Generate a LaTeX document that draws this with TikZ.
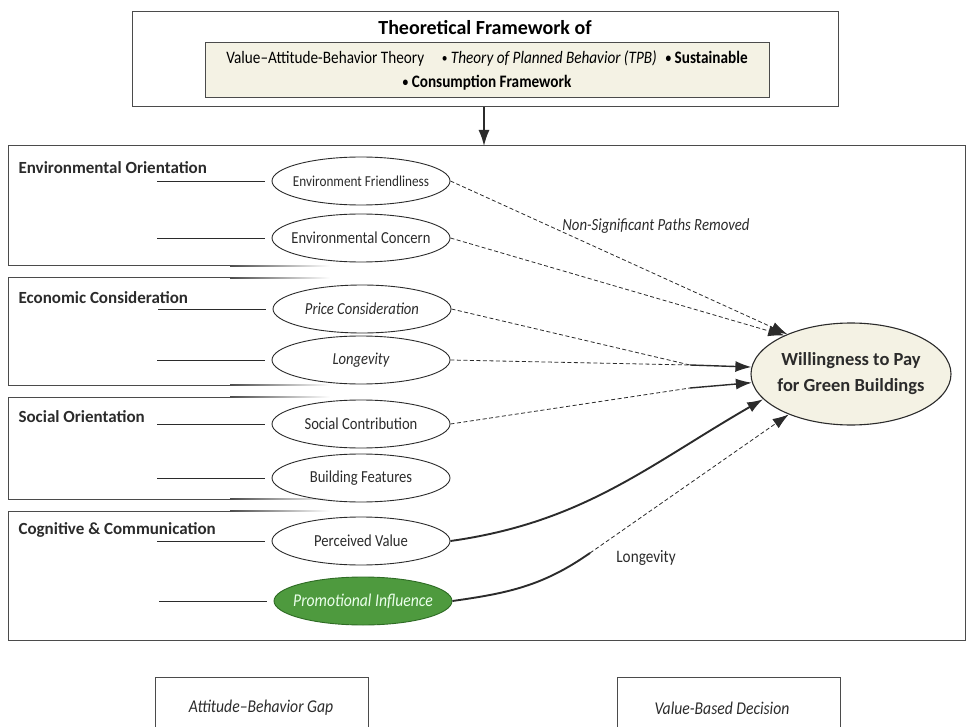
\documentclass[tikz,border=0pt]{standalone}
\usepackage{graphicx}
\usepackage{fontspec}
\setmainfont{Carlito}
\newfontfamily\narrow{Carlito}[FakeStretch=0.87]
\usetikzlibrary{arrows.meta,shapes.geometric}
\definecolor{cream}{HTML}{F4F2E4}
\definecolor{leaf}{HTML}{4E9A3E}
\definecolor{leafdark}{HTML}{2E6B24}
\definecolor{ink}{HTML}{2B2B2B}
\newcommand\sepdot{\raisebox{0.5pt}{\scalebox{0.75}{\textbullet}}}

\begin{document}
\begin{tikzpicture}[x=1pt,y=-1pt,
    construct/.style={ellipse,draw=ink,line width=0.9pt,minimum width=178pt,minimum height=48pt,
      inner xsep=-20pt,inner ysep=0pt,text=ink,font=\narrow\fontsize{16.8}{18}\selectfont},
    grouplabel/.style={anchor=west,text=ink,font=\fontsize{17}{20}\selectfont\bfseries},
    frame/.style={draw=ink!85,line width=1pt},
    nsig/.style={draw=ink,line width=0.8pt,dash pattern=on 4pt off 2.5pt},
    sig/.style={draw=ink,line width=1.4pt},
    tip/.style={-{Latex[length=16pt,width=11pt]}}]
  \useasboundingbox (0,0) rectangle (966,727);

  % theoretical framework
  \node (fw) [frame,minimum width=706pt,minimum height=95pt] at (485,59.5) {};
  \node (fwtitle) at (485,28) {\fontsize{20}{22}\selectfont\bfseries Theoretical Framework of};
  \node (theories) [frame,fill=cream,minimum width=564pt,minimum height=55pt,align=center,
    font=\narrow\fontsize{17.5}{24}\selectfont] at (487,70)
    {Value–Attitude-Behavior Theory\quad\sepdot~\textit{Theory of Planned Behavior (TPB)}\enspace\textbf{\sepdot~Sustainable}\\
     \textbf{\sepdot~Consumption Framework}};
  \coordinate (frametop) at (484,146);
  \draw[line width=1.6pt,ink,tip] (fw.south -| frametop) -- (frametop);

  % group frames
  \draw[frame] (8,146) -- (965,146) -- (965,640) -- (8,640);
  \foreach \ytop/\ybot in {146/266,278/385,397/499,511/640}
    \draw[frame] (8,\ytop) -- (8,\ybot);
  \foreach \y in {266,278,385,397,499,511} {
    \draw[frame] (8,\y) -- (230,\y);
    \shade[left color=ink!85,right color=white] (230,\y-0.5) rectangle (330,\y+0.5);
  }
  \node (envlab) [grouplabel] at (15,168) {Environmental Orientation};
  \node (ecolab) [grouplabel] at (15,298) {Economic Consideration};
  \node (soclab) [grouplabel] at (15,417) {Social Orientation};
  \node (coglab) [grouplabel] at (15,530) {Cognitive \& Communication};

  % constructs
  \node (ef) [construct,font=\narrow\fontsize{15.2}{17}\selectfont] at (361,181) {Environment Friendliness};
  \node (ec) [construct] at (361,238) {Environmental Concern};
  \node (pc) [construct] at (362,309) {\itshape Price Consideration};
  \node (lg) [construct] at (361,360) {\itshape Longevity};
  \node (sc) [construct] at (361,424) {Social Contribution};
  \node (bf) [construct] at (361,478) {Building Features};
  \node (pv) [construct] at (361,541) {Perceived Value};
  \node (pi) [construct,fill=leaf,draw=leafdark,text=green!8,font=\narrow\fontsize{18}{20}\selectfont]
    at (363,601) {\itshape Promotional Influence};
  \foreach \n in {ef,ec,pc,lg,sc,bf,pv,pi}
    \draw[ink,line width=0.8pt] (\n.west) ++(-7,0) -- ++(-108,0);

  % outcome
  \node (wtp) [ellipse,draw=ink,line width=1.1pt,fill=cream,minimum width=200pt,minimum height=102pt,
    inner xsep=-8pt,align=center,text=ink,font=\fontsize{18.5}{26}\selectfont\bfseries] at (851,374)
    {Willingness to Pay\\for Green Buildings};

  % paths
  \coordinate (m1) at (690,365);
  \coordinate (m2) at (690,388);
  \coordinate (m3) at (590,553);
  \draw[nsig,tip] (ef.east) -- (wtp.148);
  \draw[nsig,tip] (ec.east) -- (wtp.150);
  \draw[nsig] (pc.east) -- (m1);
  \draw[nsig] (lg.east) -- (m1);
  \draw[sig,tip] (m1) -- (wtp.176);
  \draw[nsig] (sc.east) -- (m2);
  \draw[sig,tip] (m2) -- (wtp.185);
  \draw[sig,line width=1.9pt,tip] (pv.east) to[out=8,in=210] (wtp.196);
  \draw[sig,line width=1.9pt] (pi.east) to[out=8,in=215] (m3);
  \draw[nsig,tip] (m3) -- (wtp.213);
  \node (nsp) at (656,226) {\narrow\fontsize{17}{19}\selectfont\itshape\color{ink} Non-Significant Paths Removed};
  \node (lglab) at (646,558) {\narrow\fontsize{17.5}{19}\selectfont\color{ink} Longevity};

  % bottom boxes
  \node (gap) at (261,708) {\narrow\fontsize{18}{20}\selectfont\itshape\color{ink} Attitude–Behavior Gap};
  \node (vbd) at (722,708) {\narrow\fontsize{18}{20}\selectfont\itshape\color{ink} Value-Based Decision};
  \draw[frame] (155,727) |- (368,677) -- (368,727);
  \draw[frame] (617,727) |- (840,677) -- (840,727);
\end{tikzpicture}
\end{document}
